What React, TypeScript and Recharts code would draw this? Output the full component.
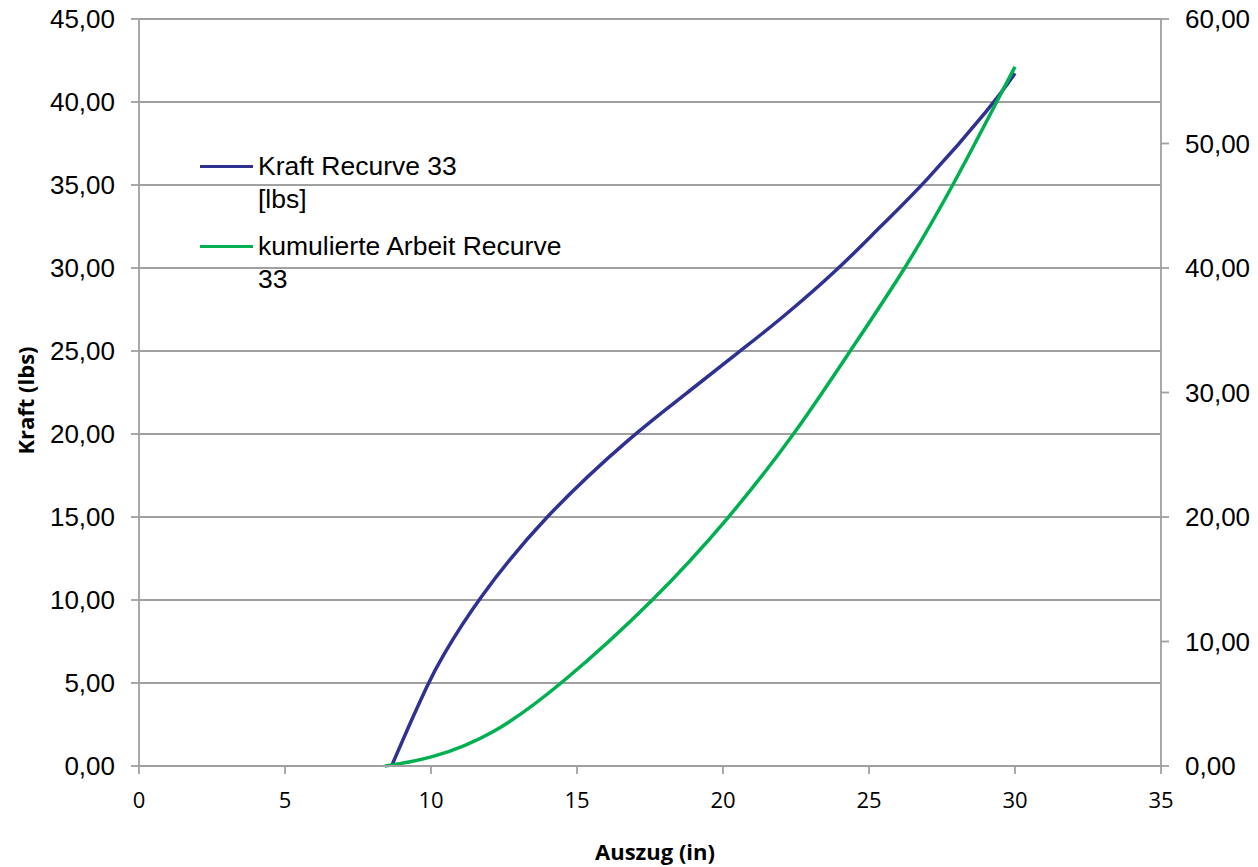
import React from 'react';
import { LineChart, Line, XAxis, YAxis, CartesianGrid, Legend, Label } from 'recharts';

// Kraft Recurve 33 [lbs] — (Auszug in, Kraft lbs)
const kraftAuszug = [8.65, 9.28, 9.91, 10.31, 11.57, 13.85, 16.93, 18.76, 20.58, 21.95, 24.0, 25.38, 26.86, 29.32, 30.0];
const kraftWerte = [0, 2.57, 5, 6.39, 10, 15, 20, 22.45, 25, 26.87, 30, 32.49, 35, 40, 41.73];

// kumulierte Arbeit Recurve 33 — (Auszug in, Arbeit)
const arbeitAuszug = [8.42, 9.97, 12.13, 14.42, 17.65, 20.24, 22.47, 24.35, 26.27, 27.89, 29.37, 30.0];
const arbeitWerte = [0, 0.54, 2.45, 6.43, 13.28, 19.98, 26.67, 33.33, 40.0, 46.67, 53.33, 56.17];

const xTicks = [0, 5, 10, 15, 20, 25, 30, 35];
const leftTicks = [0, 5, 10, 15, 20, 25, 30, 35, 40, 45];
const rightTicks = [0, 10, 20, 30, 40, 50, 60];

const seriesNames = ['Kraft Recurve 33 [lbs]', 'kumulierte Arbeit Recurve 33'];
const legendLines = [['Kraft Recurve 33', '[lbs]'], ['kumulierte Arbeit Recurve', '33']];
const seriesColors = ['#2e3192', '#00b050'];

const kraftData = kraftAuszug.map((x, i) => ({ x, kraft: kraftWerte[i] }));
const arbeitData = arbeitAuszug.map((x, i) => ({ x, arbeit: arbeitWerte[i] }));

const fmt = (v: number) => v.toFixed(2).replace('.', ',');

const GRID = '#a0a0a0';

const LegendContent = () => (
  <div style={{ fontFamily: '"Liberation Sans", Arial, sans-serif', fontSize: 26.5, color: '#000' }}>
    {legendLines.map((lines, i) => (
      <div key={i} style={{ display: 'flex', alignItems: 'flex-start', marginBottom: i === 0 ? 14 : 0 }}>
        <div style={{ width: 53, height: 3.5, background: seriesColors[i], marginTop: 15, marginRight: 5 }} />
        <div style={{ lineHeight: '33px', whiteSpace: 'nowrap' }}>
          {lines.map((t, j) => (
            <div key={j}>{t}</div>
          ))}
        </div>
      </div>
    ))}
  </div>
);

export default function App() {
  return (
    <div style={{ position: 'absolute', left: 0, top: 0 }}>
      <LineChart width={1258} height={867} margin={{ top: 19, right: 0, left: 0, bottom: 0 }}>
        <CartesianGrid yAxisId="left" vertical={false} stroke={GRID} strokeWidth={1.8} />
        <XAxis
          type="number"
          dataKey="x"
          domain={[0, 35]}
          ticks={xTicks}
          height={101}
          stroke={GRID}
          strokeWidth={1.8}
          tickSize={8}
          tickMargin={18}
          tick={{ fill: '#000', fontSize: 22, fontFamily: '"Open Sans", sans-serif' }}
          allowDataOverflow
        >
          <Label
            value="Auszug (in)"
            position="insideBottom"
            offset={7}
            dx={5}
            style={{ fill: '#000', fontSize: 22, fontWeight: 'bold', fontFamily: '"Open Sans", sans-serif' }}
          />
        </XAxis>
        <YAxis
          yAxisId="left"
          domain={[0, 45]}
          ticks={leftTicks}
          width={139}
          stroke={GRID}
          strokeWidth={1.8}
          tickSize={8}
          tickMargin={16}
          tickFormatter={fmt}
          tick={{ fill: '#000', fontSize: 26, fontFamily: '"Liberation Sans", Arial, sans-serif' }}
          label={{
            content: (props: any) => {
              const vb = props.viewBox || { x: 0, y: 19, width: 139, height: 747 };
              const cx = vb.x + 25;
              const cy = vb.y + vb.height / 2 + 8;
              return (
                <text
                  x={cx}
                  y={cy}
                  transform={`rotate(-90 ${cx} ${cy})`}
                  textAnchor="middle"
                  dominantBaseline="central"
                  style={{ fill: '#000', fontSize: 22, fontWeight: 'bold', fontFamily: '"Open Sans", sans-serif' }}
                >
                  Kraft (lbs)
                </text>
              );
            },
          }}
        />
        <YAxis
          yAxisId="right"
          orientation="right"
          domain={[0, 60]}
          ticks={rightTicks}
          width={97}
          stroke={GRID}
          strokeWidth={1.8}
          tickSize={8}
          tickMargin={16}
          tickFormatter={fmt}
          tick={{ fill: '#000', fontSize: 26, fontFamily: '"Liberation Sans", Arial, sans-serif' }}
        />
        <Legend
          layout="vertical"
          align="center"
          verticalAlign="middle"
          content={<LegendContent />}
          wrapperStyle={{ position: 'absolute', left: 200, top: 149.5, width: 420, height: 140 }}
        />
        <Line
          yAxisId="left"
          data={kraftData}
          dataKey="kraft"
          name={seriesNames[0]}
          type="basis"
          stroke={seriesColors[0]}
          strokeWidth={3.5}
          dot={false}
          activeDot={false}
          isAnimationActive={false}
        />
        <Line
          yAxisId="right"
          data={arbeitData}
          dataKey="arbeit"
          name={seriesNames[1]}
          type="basis"
          stroke={seriesColors[1]}
          strokeWidth={3.5}
          dot={false}
          activeDot={false}
          isAnimationActive={false}
        />
      </LineChart>
    </div>
  );
}
